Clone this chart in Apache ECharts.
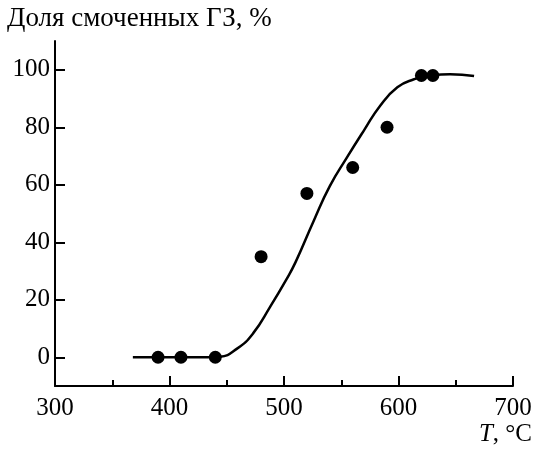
<!DOCTYPE html>
<html>
<head>
<meta charset="utf-8">
<script src="https://cdn.jsdelivr.net/npm/echarts@6/dist/echarts.min.js"></script>
<style>
html,body{margin:0;padding:0;background:#fff;}
#main{width:535px;height:450px;}
</style>
</head>
<body>
<div id="main"></div>
<script>
// measured points
var ptsT = [390, 410, 440, 480, 520, 560, 590, 620, 630];
var ptsVal = [0, 0, 0, 35, 57, 66, 80, 98, 98];
// fitted curve
var curveT = [368, 400, 430, 444, 459, 473, 488, 502, 510, 526, 540, 555, 570, 584, 599, 613, 630, 645, 666];
var curveVal = [0, 0, 0, 0.2, 3, 8.3, 17.6, 27, 33, 47.5, 59.5, 69.5, 79, 87.5, 93.9, 96.6, 98.2, 98.4, 97.8];
var yTicks = [0, 20, 40, 60, 80, 100];

var fnt = 'Liberation Serif';

function zip(a, b){
	var r = [];
	for(var i = 0; i < a.length; i++){
		r.push([a[i], b[i]]);
	}
	return r;
}

var myChart = echarts.init(document.getElementById('main'));
var option = {
	animation: false,
	backgroundColor: '#fff',
	grid: {
		left: 55,
		right: 22,
		top: 41,
		bottom: 64
	},
	xAxis: {
		type: 'value',
		min: 300,
		max: 700,
		interval: 100,
		axisLine: {onZero: false, lineStyle: {color: '#000', width: 2}},
		axisTick: {inside: true, length: 10, lineStyle: {color: '#000', width: 2}},
		minorTick: {show: true, splitNumber: 2, length: 6, lineStyle: {color: '#000', width: 2}},
		splitLine: {show: false},
		axisLabel: {color: '#000', fontFamily: fnt, fontSize: 25, margin: 10}
	},
	yAxis: {
		type: 'value',
		min: -10,
		max: 110,
		axisLine: {show: true, onZero: false, lineStyle: {color: '#000', width: 2}},
		axisTick: {show: true, inside: true, length: 10, customValues: yTicks, lineStyle: {color: '#000', width: 2}},
		splitLine: {show: false},
		axisLabel: {color: '#000', fontFamily: fnt, fontSize: 25, margin: 5, customValues: yTicks}
	},
	graphic: [
		{
			type: 'text',
			left: 7,
			top: 5,
			style: {text: 'Доля смоченных ГЗ, %', font: '27px ' + fnt, fill: '#000'}
		},
		{
			type: 'text',
			right: 3,
			top: 422,
			style: {
				text: '{i|T}, °C',
				font: '25px ' + fnt,
				fill: '#000',
				rich: {i: {fontStyle: 'italic', fontFamily: fnt, fontSize: 25}}
			}
		}
	],
	series: [
		{
			type: 'line',
			data: zip(curveT, curveVal),
			smooth: 0.5,
			symbol: 'none',
			lineStyle: {color: '#000', width: 2.5},
			z: 2
		},
		{
			type: 'scatter',
			data: zip(ptsT, ptsVal),
			symbol: 'circle',
			symbolSize: 13,
			itemStyle: {color: '#000', opacity: 1},
			z: 3
		}
	]
};
myChart.setOption(option);
</script>
</body>
</html>
